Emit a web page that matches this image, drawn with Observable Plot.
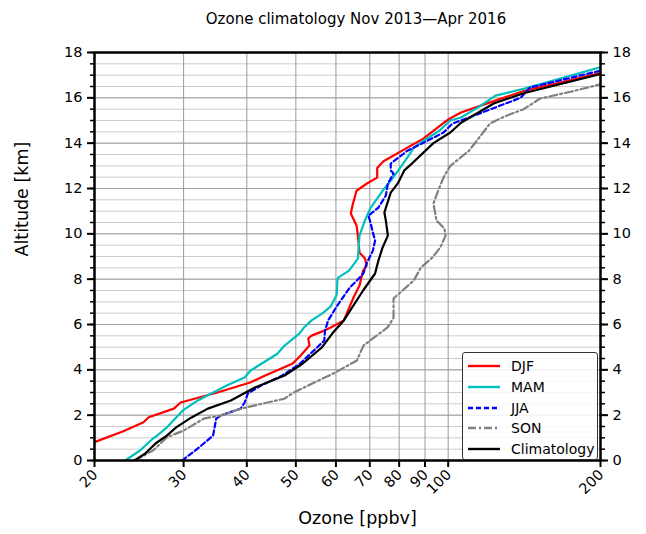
<!DOCTYPE html>
<html>
<head>
<meta charset="utf-8">
<script src="https://cdn.jsdelivr.net/npm/d3@7"></script>
<script src="https://cdn.jsdelivr.net/npm/@observablehq/plot@0.6"></script>
<style>
  html, body { margin: 0; padding: 0; background: #fff; }
  #wrap { position: relative; width: 646px; height: 534px; font-family: "DejaVu Sans", sans-serif; }
  #title { position: absolute; top: 10px; left: 0; width: 712px; text-align: center; font-size: 15px; color: #000; }
  #legend { position: absolute; left: 462px; top: 352px; width: 134px; height: 106px; border: 1px solid #333; border-radius: 3px; background: rgba(255,255,255,0.85); font-size: 14px; }
  .row { position: absolute; left: 5px; height: 20px; display: flex; align-items: center; }
  .row svg { width: 32px; height: 10px; margin-right: 11px; }
</style>
</head>
<body>
<div id="wrap">
  <div id="chart"></div>
  <div id="title">Ozone climatology Nov 2013—Apr 2016</div>
  <div id="legend"></div>
</div>
<script>
// ---- data (altitude km, ozone ppbv) ----
const seriesNames = ["DJF", "MAM", "JJA", "SON", "Climatology"];
const seriesColors = ["#ff0000", "#00bfbf", "#0000ff", "#808080", "#000000"];
const seriesDash = [null, null, "5,3", "8,3,2,3", null];

const djfAlt = [0.0, 0.81, 1.29, 1.69, 1.91, 2.29, 2.56, 3.0, 3.44, 3.75, 4.28, 4.63, 5.07, 5.38, 5.51, 5.73, 5.87, 6.18, 7.19, 7.72, 8.38, 8.6, 8.91, 9.17, 9.92, 10.37, 10.9, 11.25, 11.9, 12.22, 12.48, 12.9, 13.2, 14.2, 14.9, 15.1, 15.35, 15.8, 16.3, 17.1];
const djfO3  = [17.0, 20.0, 22.8, 25.0, 25.6, 28.7, 29.6, 35.0, 40.6, 43.5, 49.3, 51.1, 53.2, 52.9, 53.7, 56.9, 58.6, 62.2, 65.0, 66.8, 67.9, 69.0, 68.5, 66.8, 66.3, 65.9, 64.2, 64.7, 65.9, 69.1, 72.4, 72.4, 74.5, 89.3, 98.0, 101, 106, 121, 141, 200];

const mamAlt = [0.0, 0.44, 0.97, 1.1, 1.46, 1.9, 2.21, 2.65, 3.31, 3.66, 3.97, 4.7, 5.07, 5.6, 5.87, 6.18, 6.5, 6.8, 7.3, 7.94, 8.07, 8.38, 8.91, 9.92, 10.6, 11.16, 11.9, 12.35, 12.8, 13.37, 13.8, 14.1, 14.55, 15.0, 15.13, 15.6, 16.1, 16.4, 17.35];
const mamO3  = [23.0, 24.6, 26.1, 26.6, 27.8, 29.0, 29.9, 32.0, 36.5, 39.6, 40.7, 45.9, 47.5, 50.8, 51.9, 53.7, 56.5, 58.6, 60.2, 60.4, 60.6, 63.7, 66.3, 66.8, 68.5, 70.3, 74.2, 77.0, 79.7, 83.1, 85.5, 89.3, 96.0, 101, 106, 115, 124, 141, 200];

const jjaAlt = [0.0, 0.53, 1.1, 1.85, 1.99, 2.29, 2.56, 2.96, 3.3, 3.75, 4.28, 4.55, 5.29, 5.73, 6.18, 6.84, 7.63, 7.94, 8.25, 8.69, 9.26, 9.7, 10.06, 10.45, 10.8, 11.16, 11.69, 12.22, 12.66, 12.8, 13.1, 13.67, 14.0, 14.47, 14.87, 15.2, 16.0, 16.45, 17.2];
const jjaO3  = [29.8, 32.0, 34.3, 34.8, 35.6, 38.9, 39.6, 40.2, 42.6, 47.0, 51.0, 52.5, 56.9, 57.1, 57.9, 60.4, 63.9, 66.0, 68.0, 69.0, 71.0, 71.7, 71.0, 70.3, 69.6, 72.8, 75.3, 76.0, 78.0, 77.0, 77.0, 83.1, 89.0, 97.9, 102, 112, 139, 145, 200];

const sonAlt = [0.0, 0.44, 1.02, 1.32, 1.85, 1.99, 2.29, 2.43, 2.73, 3.0, 3.84, 4.41, 5.07, 5.87, 6.3, 7.15, 7.94, 8.51, 8.95, 9.4, 9.92, 10.23, 10.59, 11.34, 11.9, 12.57, 13.0, 13.67, 14.87, 15.2, 15.5, 15.97, 16.3, 16.6];
const sonO3  = [24.0, 26.1, 27.8, 30.0, 32.9, 35.6, 39.0, 41.5, 47.5, 49.5, 59.3, 66.0, 68.0, 75.9, 78.0, 78.0, 85.5, 88.3, 93.0, 96.5, 98.8, 98.3, 94.8, 93.5, 95.5, 98.3, 101, 110, 121, 130, 141, 152, 177, 200];

const climAlt = [0.0, 0.31, 0.75, 1.1, 1.46, 1.9, 2.29, 2.65, 3.22, 3.75, 4.28, 4.99, 5.6, 6.18, 7.5, 8.25, 8.82, 9.4, 9.92, 10.59, 10.94, 11.82, 12.26, 12.8, 13.1, 14.0, 14.47, 14.9, 15.75, 16.2, 17.05];
const climO3  = [24.0, 25.2, 26.4, 27.8, 29.0, 31.1, 33.5, 37.2, 41.5, 47.5, 51.6, 56.3, 59.0, 62.2, 67.9, 71.7, 72.8, 74.2, 76.0, 75.3, 74.8, 77.0, 79.7, 81.9, 84.8, 93.5, 101, 106, 123, 141, 200];

const xTicks = [20, 30, 40, 50, 60, 70, 80, 90, 100, 200];
const xGrid = [30, 40, 50, 60, 70, 80, 90, 100];
const yMajor = [0, 2, 4, 6, 8, 10, 12, 14, 16, 18];
const yMinor = d3.range(0, 18.01, 0.5);

const alts = [djfAlt, mamAlt, jjaAlt, sonAlt, climAlt];
const vals = [djfO3, mamO3, jjaO3, sonO3, climO3];
const tables = alts.map((a, i) => a.map((y, j) => ({ alt: y, o3: vals[i][j] })));

const fontSize = 14.5;
const lineMarks = tables.map((t, i) => Plot.line(t, {
  x: "o3", y: "alt", stroke: seriesColors[i], strokeWidth: 2.2,
  strokeDasharray: seriesDash[i] || undefined, clip: true, curve: "linear"
}));

const chart = Plot.plot({
  width: 646, height: 534,
  marginLeft: 94, marginRight: 46, marginTop: 52, marginBottom: 74,
  style: { fontFamily: "DejaVu Sans, sans-serif", fontSize: fontSize + "px", background: "white", overflow: "visible" },
  x: { type: "log", domain: [20, 200] },
  y: { domain: [0, 18] },
  marks: [
    Plot.ruleY(yMinor, { stroke: "#cccccc", strokeWidth: 1 }),
    Plot.ruleY(yMajor, { stroke: "#a0a0a0", strokeWidth: 1 }),
    Plot.ruleX(xGrid, { stroke: "#9a9a9a", strokeWidth: 1 }),
    ...lineMarks,
    Plot.frame({ stroke: "black", strokeWidth: 2.5 }),
    Plot.axisY({ anchor: "left", ticks: yMinor, tickSize: 4, tickFormat: () => "", label: null, strokeWidth: 1.5 }),
    Plot.axisY({ anchor: "right", ticks: yMinor, tickSize: 4, tickFormat: () => "", label: null, strokeWidth: 1.5 }),
    Plot.axisY({ anchor: "left", ticks: yMajor, tickSize: 7, tickPadding: 5, label: null, strokeWidth: 2, fontSize: fontSize, fill: "black" }),
    Plot.axisY({ anchor: "right", ticks: yMajor, tickSize: 7, tickPadding: 5, label: null, strokeWidth: 2, fontSize: fontSize, fill: "black" }),
    Plot.axisX({ anchor: "bottom", ticks: xTicks, tickFormat: () => "", tickSize: 7, label: null, strokeWidth: 2 }),
    Plot.text(xTicks, { x: d => d, frameAnchor: "bottom", text: d => String(d), rotate: -45, textAnchor: "end", dx: 4, dy: 15, fontSize: fontSize, fill: "black" }),
    Plot.text(["Ozone [ppbv]"], { frameAnchor: "bottom", dy: 63, dx: 10, fontSize: 17.5, fill: "black" }),
    Plot.text(["Altitude [km]"], { frameAnchor: "left", dx: -72, rotate: -90, fontSize: 17.5, fill: "black" })
  ]
});
document.getElementById("chart").appendChild(chart);

// legend
const lg = document.getElementById("legend");
seriesNames.forEach((n, i) => {
  const row = document.createElement("div");
  row.className = "row";
  row.style.top = (3 + i * 20.8) + "px";
  const dash = seriesDash[i] ? `stroke-dasharray="${seriesDash[i]}"` : "";
  row.innerHTML = `<svg viewBox="0 0 32 10"><line x1="0" y1="5" x2="32" y2="5" stroke="${seriesColors[i]}" stroke-width="2.4" ${dash}/></svg><span>${n}</span>`;
  lg.appendChild(row);
});
</script>
</body>
</html>
